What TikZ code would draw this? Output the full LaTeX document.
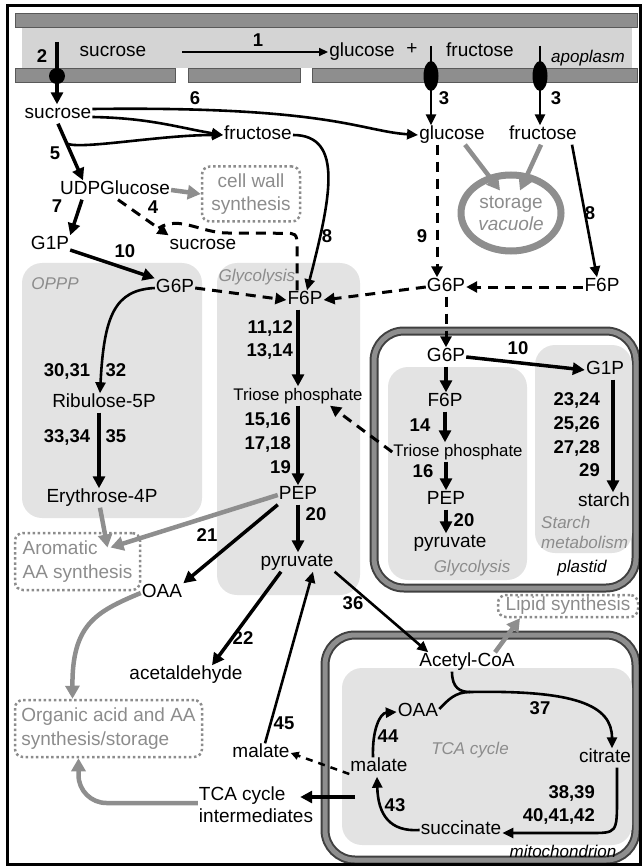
\documentclass[tikz,border=0pt]{standalone}
\usepackage{fontspec}
\setmainfont{Liberation Sans}
\usetikzlibrary{arrows.meta,shapes.geometric}
\definecolor{memgray}{HTML}{8E8E8E}
\definecolor{apogray}{HTML}{D4D4D4}
\definecolor{boxgray}{HTML}{E3E3E3}
\definecolor{txtgray}{HTML}{8C8C8C}
\newcommand{\membar}[2]{%
 \draw [black!65,fill=memgray] ({#1}) rectangle ({#2});%
}
\newcommand{\carrier}[4]{%
 \node ({#1}) at ({#2}) [ellipse,fill=black,inner sep=0pt,text height=,text depth=,minimum width={#3},minimum height={#4}] {};%
}
\newcommand{\pathway}[2]{%
 \fill [boxgray,rounded corners=20pt] ({#1}) rectangle ({#2});%
}
\newcommand{\envelope}[2]{%
 \draw [black!75,line width=9pt,rounded corners=30pt] ({#1}) rectangle ({#2});%
 \draw [memgray,line width=5pt,rounded corners=30pt] ({#1}) rectangle ({#2});%
}

\begin{document}
\begin{tikzpicture}[x=1pt,y=-1pt,
   every node/.style={inner sep=1pt,text height=13pt,text depth=4pt,font=\fontsize{19}{22}\selectfont},
   multi/.style={text height=,text depth=},
   small/.style={font=\fontsize{16.8}{20}\selectfont},
   num/.style={font=\fontsize{18.5}{23.7}\selectfont\bfseries},
   note/.style={font=\fontsize{17}{20}\selectfont\itshape,text=txtgray},
   tag/.style={font=\fontsize{17}{20}\selectfont\itshape},
   sink/.style={multi,draw=txtgray,line width=2.5pt,dash pattern=on 2.5pt off 2.6pt,rounded corners=8pt,text=txtgray,inner sep=0pt,font=\fontsize{19}{23.5}\selectfont},
   rxn/.style={line width=3.5pt,-{Triangle[length=12pt,width=12pt]}},
   flux/.style={line width=2.6pt,-{Triangle[length=11pt,width=10pt]}},
   weak/.style={line width=1.6pt,-{Triangle[length=9pt,width=8pt]}},
   shunt/.style={line width=3pt,dash pattern=on 10pt off 7pt,-{Triangle[length=11pt,width=11pt]}},
   leak/.style={line width=2.5pt,dash pattern=on 7pt off 6pt,-{Triangle[length=8pt,width=8pt]}},
   export/.style={memgray,line width=4.5pt,-{Triangle[length=13pt,width=14pt]}}]
   \useasboundingbox (0,0) rectangle (642,866);
   \fill[apogray] (22,27) rectangle (632,68);
   \membar{15,13}{637,27};
   \membar{15,68}{175,82};
   \membar{188,68}{300,82};
   \membar{312,68}{637,82};
   \pathway{22,263}{202,518};
   \pathway{217,263}{360,595};
   \envelope{374,331}{636,588};
   \pathway{388,367}{527,580};
   \pathway{535,345}{632,553};
   \envelope{325,635}{636,860};
   \pathway{342,668}{632,845};

   \node (apoSuc) at (113,52) {sucrose};
   \node (apoGlc) at (362,52) {glucose};
   \node (plus) at (412,50) {+};
   \node (apoFru) at (480,52) {fructose};
   \node (apo) [tag] at (588,58) {apoplasm};
   \node (cytSuc) at (58,114) {sucrose};
   \node (fru1) at (258,135) {fructose};
   \node (glc) at (452,135) {glucose};
   \node (fru2) at (543,135) {fructose};
   \node (vac) [multi,ellipse,draw=memgray,line width=7pt,minimum width=100pt,minimum height=76pt,align=center,text=txtgray] at (511,213) {storage\\\textit{vacuole}};
   \node (udpg) at (115,190) {UDPGlucose};
   \node (cwall) [sink,minimum width=98pt,minimum height=55pt,align=center] at (251,194) {cell wall\\synthesis};
   \node (g1p) at (50,245) {G1P};
   \node (suc2) at (203,245) {sucrose};
   \node (g6pA) at (175,288) {G6P};
   \node (f6pA) at (305,300) {F6P};
   \node (g6pB) at (446,287) {G6P};
   \node (f6pB) at (602,287) {F6P};
   \node (oppp) [note] at (55,285) {OPPP};
   \node (glyA) [note] at (257,277) {Glycolysis};
   \node (rib) at (104,403) {Ribulose-5P};
   \node (ery) at (102,498) {Erythrose-4P};
   \node (tpA) [small] at (298,396) {Triose phosphate};
   \node (pepA) at (298,495) {PEP};
   \node (pyrA) at (297,562) {pyruvate};
   \node (oaaA) at (162,593) {OAA};
   \node (acet) at (186,675) {acetaldehyde};
   \node (malA) at (261,753) {malate};
   \node (tcai) [multi,align=left] at (256,805) {TCA cycle\\intermediates};
   \node (arom) [sink,minimum width=125pt,minimum height=57pt,align=left] at (77.5,561.5) {Aromatic\\AA synthesis};
   \node (org) [sink,minimum width=187pt,minimum height=57pt,align=left] at (108.5,728.5) {Organic acid and AA\\synthesis/storage};
   \node (lipid) [sink,minimum width=140pt,minimum height=22pt] at (568,606) {Lipid synthesis};

   \node (g6pP) at (446,357) {G6P};
   \node (g1pP) at (605,370) {G1P};
   \node (f6pP) at (445,402) {F6P};
   \node (tpP) [small] at (458,452) {Triose phosphate};
   \node (pepP) at (446,500) {PEP};
   \node (pyrP) at (450,543) {pyruvate};
   \node (starch) at (604,502) {starch};
   \node (glyP) [note] at (472,568) {Glycolysis};
   \node (plastid) [tag] at (582,568) {plastid};
   \node (stmet) [note,multi,align=left,anchor=west] at (540,532) {Starch\\metabolism};

   \node (acoa) at (467,662) {Acetyl-CoA};
   \node (oaaM) at (418,712) {OAA};
   \node (cit) at (605,758) {citrate};
   \node (succ) at (461,830) {succinate};
   \node (malM) at (379,767) {malate};
   \node (tca) [note] at (470,750) {TCA cycle};
   \node (mito) [tag] at (563,853) {mitochondrion};

   \node (l1) [num] at (258,42) {1};
   \node (l2) [num] at (42,58) {2};
   \node (l3a) [num] at (444,100) {3};
   \node (l3b) [num] at (556,100) {3};
   \node (l4) [num] at (153,209) {4};
   \node (l5) [num] at (55,155) {5};
   \node (l6) [num] at (195,100) {6};
   \node (l7) [num] at (57,208) {7};
   \node (l8a) [num] at (327,238) {8};
   \node (l8b) [num] at (590,215) {8};
   \node (l9) [num] at (422,238) {9};
   \node (l10a) [num] at (125,253) {10};
   \node (l10b) [num] at (518,350) {10};
   \node (l11) [num,multi,align=right,anchor=east] at (294,340) {11,12\\13,14};
   \node (l15) [num,multi,align=right,anchor=east] at (292,443) {15,16\\17,18\\19};
   \node (l14) [num] at (420,427) {14};
   \node (l16) [num] at (423,473) {16};
   \node (l20a) [num] at (316,516) {20};
   \node (l20b) [num] at (464,522) {20};
   \node (l21) [num] at (207,537) {21};
   \node (l22) [num] at (243,640) {22};
   \node (l23) [num,multi,align=right,anchor=east] at (601,435) {23,24\\25,26\\27,28\\29};
   \node (l30) [num] at (67,372) {30,31};
   \node (l32) [num] at (116,372) {32};
   \node (l33) [num] at (67,438) {33,34};
   \node (l35) [num] at (116,438) {35};
   \node (l36) [num] at (353,605) {36};
   \node (l37) [num] at (540,710) {37};
   \node (l38) [num,multi,align=right,anchor=east] at (596,805) {38,39\\40,41,42};
   \node (l43) [num] at (395,807) {43};
   \node (l44) [num] at (388,738) {44};
   \node (l45) [num] at (284,725) {45};

   \coordinate (t2) at (57,42);
   \coordinate (t3a) at (431,46);
   \coordinate (t3b) at (540,46);
   \draw[weak] ([xshift=35pt]apoSuc.east) -- (apoGlc.west);
   \draw[rxn] (t2) -- (cytSuc.north -| t2);
   \draw[flux] (t3a) -- (t3a |- glc.north);
   \draw[flux] (t3b) -- (t3b |- fru2.north);
   \carrier{c2}{57,76}{16pt}{16pt};
   \carrier{c3a}{431,76}{15pt}{30pt};
   \carrier{c3b}{540,76}{15pt}{30pt};

   \draw[flux] ([yshift=5pt]cytSuc.east) .. controls (330,106) and (360,131) .. (glc.west);
   \draw[flux] ([yshift=-3pt]cytSuc.east) .. controls (150,118) and (180,128) .. (fru1.west);
   \draw[rxn] (cytSuc.south) -- coordinate[pos=0.35] (b5) ([xshift=-32pt]udpg.north);
   \draw[flux] (b5) .. controls (80,150) and (160,135) .. (fru1.west);
   \draw[flux] (fru1.east) .. controls (345,135) and (330,200) .. ([xshift=2pt]f6pA.north);
   \draw[flux] ([xshift=-6pt]fru2.south east) -- ([xshift=-5pt]f6pB.north);
   \draw[export] ([xshift=13pt]glc.south) -- ([xshift=-11pt,yshift=-19pt]vac.north);
   \draw[export] ([xshift=-2pt]fru2.south) -- ([xshift=9pt,yshift=-19pt]vac.north);
   \draw[shunt] ([xshift=-15pt]glc.south) -- ([xshift=-9pt]g6pB.north);
   \draw[shunt] (f6pB.west) -- (g6pB.east);
   \draw[shunt] (g6pB.west) -- (f6pA.east);
   \draw[export] (udpg.east) -- (cwall.west);
   \draw[rxn] ([xshift=-33pt]udpg.south) -- (g1p.north east);
   \draw[shunt] ([xshift=3pt]udpg.south) -- coordinate[pos=0.8] (j4) (suc2.north west);
   \draw[shunt,-] ([xshift=-8pt]f6pA.north) -- ++(0,-45) .. controls +(0,-12) and +(10,0) .. ++(-12,-12) -- (228,233) .. controls (200,233) and (180,215) .. (j4);
   \draw[rxn] ([yshift=-5pt]g1p.east) -- (g6pA.north west);
   \draw[shunt] (g6pA.east) -- (f6pA.west);
   \draw[flux] (g6pA.west) .. controls (115,290) and (104,315) .. ([xshift=-4pt]rib.north);
   \draw[rxn] ([xshift=-5pt]rib.south) -- ([xshift=-3pt]ery.north);
   \draw[export] ([xshift=-2pt]ery.south) -- ([xshift=30pt,yshift=14pt]arom.center);
   \draw[export] (pepA.west) -- ([xshift=33pt,yshift=14pt]arom.center);
   \draw[rxn] (f6pA.south -| tpA) -- (tpA.north);
   \draw[rxn] (tpA.south) -- (pepA.north);
   \draw[rxn] (pepA.south) -- (pyrA.north -| pepA);
   \draw[rxn] (pepA.south west) -- (oaaA.north east);
   \draw[rxn] ([xshift=-16pt]pyrA.south) -- ([xshift=26pt]acet.north);
   \draw[flux] ([xshift=4pt]malA.north) -- ([xshift=16pt]pyrA.south);
   \draw[flux] (pyrA.south east) -- ([xshift=10pt]acoa.north west);
   \draw[export] (oaaA.west) .. controls (95,612) and (72,625) .. ([xshift=-36pt]org.north);
   \draw[export,rounded corners=28pt] ([yshift=2pt]tcai.west) -| ([xshift=-30pt]org.south);

   \draw[shunt] (g6pB.south) -- (g6pP.north);
   \draw[rxn] (g6pP.east) -- (g1pP.west);
   \draw[rxn] (g6pP.south) -- (f6pP.north -| g6pP);
   \draw[rxn] (f6pP.south) -- (f6pP |- tpP.north);
   \draw[shunt] (tpP.west) -- ([xshift=32pt]tpA.south);
   \draw[rxn] (tpP.south -| pepP) -- (pepP.north);
   \draw[rxn] (pepP.south) -- (pyrP.north -| pepP);
   \draw[rxn] ([xshift=8pt]g1pP.south) -- ([xshift=9pt]starch.north);

   \coordinate (j37) at (470,692);
   \coordinate (tcaout) at (355,797);
   \draw[export] ([xshift=28pt]acoa.north) -- ([xshift=-48pt]lipid.south);
   \draw[flux] ([yshift=3pt]oaaM.east) .. controls (448,700) and (455,692) .. (j37) .. controls (575,690) and (612,705) .. ([xshift=7pt]cit.north);
   \draw[flux,-] ([xshift=-15pt]acoa.south) .. controls (452,688) and (460,692) .. (j37);
   \draw[flux] ([xshift=12pt]cit.south) -- ++(0,30) .. controls (617,833) .. (590,833) -- ([yshift=-3pt]succ.east);
   \draw[flux] (succ.west) .. controls (390,832) and (378,815) .. ([xshift=-2pt]malM.south);
   \draw[flux] ([xshift=-6pt]malM.north) .. controls (372,730) and (380,713) .. (oaaM.west);
   \draw[leak] ([yshift=-7pt]malM.west) -- (malA.east);
   \draw[rxn] (tcaout) -- ([xshift=-14pt,yshift=8pt]tcai.east);

   \draw[line width=3pt] (7,6) rectangle (640,864);
  \end{tikzpicture}
\end{document}
